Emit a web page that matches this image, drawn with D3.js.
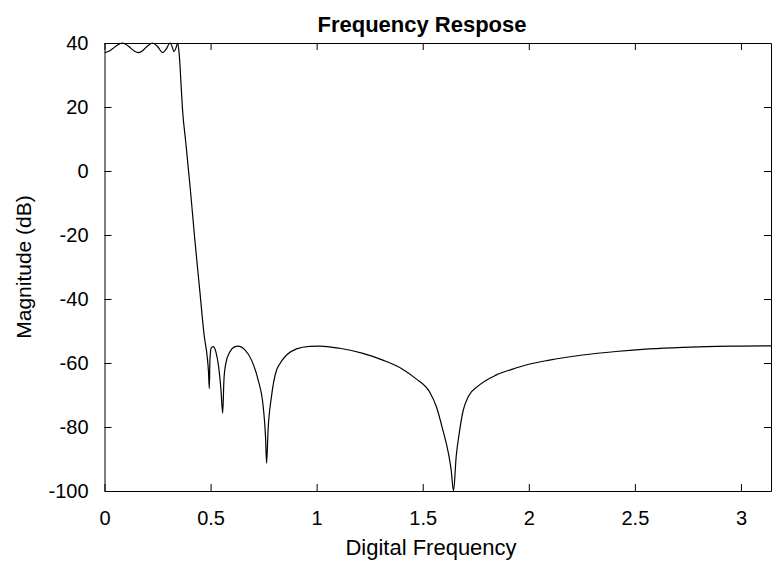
<!DOCTYPE html>
<html>
<head>
<meta charset="utf-8">
<script src="https://cdn.jsdelivr.net/npm/d3@7/dist/d3.min.js"></script>
<style>
html,body{margin:0;padding:0;background:#fff;}
text{font-family:"Liberation Sans",Arial,Helvetica,sans-serif;}
</style>
</head>
<body>
<svg id="chart" width="772" height="561"></svg>
<script>
// Digital frequency (rad/sample)
const freq = [
  0, 0.02, 0.04, 0.06, 0.083, 0.10, 0.12, 0.14, 0.16, 0.18, 0.20, 0.227, 0.25, 0.274, 0.29, 0.309, 0.318, 0.3275, 0.337, 0.345, 0.350, 0.355,
  0.360, 0.368, 0.383, 0.405, 0.426, 0.450, 0.470, 0.484, 0.490, 0.494,
  0.497, 0.503, 0.5125, 0.525, 0.538, 0.549, 0.557,
  0.563, 0.572, 0.591, 0.615, 0.630, 0.662, 0.693, 0.724, 0.748, 0.759, 0.764,
  0.771, 0.787, 0.811, 0.826, 0.858, 0.905, 0.967, 1.015, 1.109, 1.218, 1.312, 1.407, 1.466, 1.532, 1.564, 1.595, 1.618, 1.634, 1.645,
  1.658, 1.672, 1.690, 1.715, 1.765, 1.845, 1.920, 2.000, 2.097, 2.254, 2.411, 2.567, 2.724, 2.881, 3.0, 3.1416
];
// Magnitude (dB)
const magnitude = [
  37, 37.4, 38.3, 39.3, 40, 39.6, 38.6, 37.5, 37, 37.6, 38.9, 40, 38.9, 37, 38, 40, 39, 37.3, 38.5, 40, 38.0, 34,
  28, 19, 9.0, -6, -21.6, -38, -51.5, -58, -62.5, -68,
  -59, -55.3, -54.9, -56.5, -61.2, -68.4, -75.7,
  -65.3, -60.1, -56.5, -54.9, -54.7, -55.9, -59.1, -65.3, -73.6, -83, -91.3,
  -81, -70.5, -62.2, -60.3, -57.5, -55.6, -54.8, -54.7, -55.4, -57, -59.1, -62, -64.8, -69, -73.6, -81, -87.2, -93.4, -100,
  -89, -82, -75, -70.5, -67, -63.8, -62.0, -60.4, -59.1, -57.5, -56.4, -55.6, -55.1, -54.8, -54.7, -54.65
];
const xTicks = [0, 0.5, 1, 1.5, 2, 2.5, 3];
const xTickLabels = ["0", "0.5", "1", "1.5", "2", "2.5", "3"];
const yTicks = [-100, -80, -60, -40, -20, 0, 20, 40];
const yTickLabels = ["-100", "-80", "-60", "-40", "-20", "0", "20", "40"];
const titleText = "Frequency Respose";
const xLabelText = "Digital Frequency";
const yLabelText = "Magnitude (dB)";

const W = 772, H = 561;
const pLeft = 104.5, pRight = 771, pTop = 43, pBottom = 491;
const svg = d3.select("#chart");

const x = d3.scaleLinear().domain([0, Math.PI]).range([pLeft, pRight]);
const y = d3.scaleLinear().domain([-100, 40]).range([pBottom, pTop]);

const data = freq.map((f, i) => ({f, m: magnitude[i]}));

svg.append("defs").append("clipPath").attr("id", "clip")
  .append("rect").attr("x", pLeft).attr("y", pTop - 1).attr("width", pRight - pLeft).attr("height", pBottom - pTop + 2);

const line = d3.line().x(d => x(d.f)).y(d => y(d.m)).curve(d3.curveMonotoneX);
svg.append("path").datum(data)
  .attr("clip-path", "url(#clip)")
  .attr("fill", "none").attr("stroke", "#000").attr("stroke-width", 1.2)
  .attr("d", line);

const tickLen = 7;
const xAxisB = d3.axisBottom(x).tickValues(xTicks).tickFormat((d, i) => xTickLabels[i]).tickSizeInner(-tickLen).tickSizeOuter(0).tickPadding(tickLen + 13);
const gB = svg.append("g").attr("transform", `translate(0,${pBottom})`).call(xAxisB);
const xAxisT = d3.axisTop(x).tickValues(xTicks).tickFormat("").tickSizeInner(-tickLen).tickSizeOuter(0);
const gT = svg.append("g").attr("transform", `translate(0,${pTop})`).call(xAxisT);
const yAxisL = d3.axisLeft(y).tickValues(yTicks).tickFormat((d, i) => yTickLabels[i]).tickSizeInner(-tickLen).tickSizeOuter(0).tickPadding(tickLen + 9);
const gL = svg.append("g").attr("transform", `translate(${pLeft},0)`).call(yAxisL);
const yAxisR = d3.axisRight(y).tickValues(yTicks).tickFormat("").tickSizeInner(-tickLen).tickSizeOuter(0);
const gR = svg.append("g").attr("transform", `translate(${pRight},0)`).call(yAxisR);

[gB, gT, gL, gR].forEach(g => {
  g.select(".domain").attr("stroke", "#000").attr("stroke-width", 1);
  g.selectAll(".tick line").attr("stroke", "#000").attr("stroke-width", 1);
  g.selectAll("text").attr("font-size", 20).attr("fill", "#000")
    .attr("font-family", "'Liberation Sans', Arial, sans-serif");
});

svg.append("text").attr("x", 422).attr("y", 32)
  .attr("text-anchor", "middle").attr("font-size", 22).attr("font-weight", "bold")
  .text(titleText);
svg.append("text").attr("x", 431).attr("y", 555)
  .attr("text-anchor", "middle").attr("font-size", 22)
  .text(xLabelText);
svg.append("text").attr("transform", `translate(31,${(pTop + pBottom) / 2}) rotate(-90)`)
  .attr("text-anchor", "middle").attr("font-size", 21)
  .text(yLabelText);
</script>
</body>
</html>
